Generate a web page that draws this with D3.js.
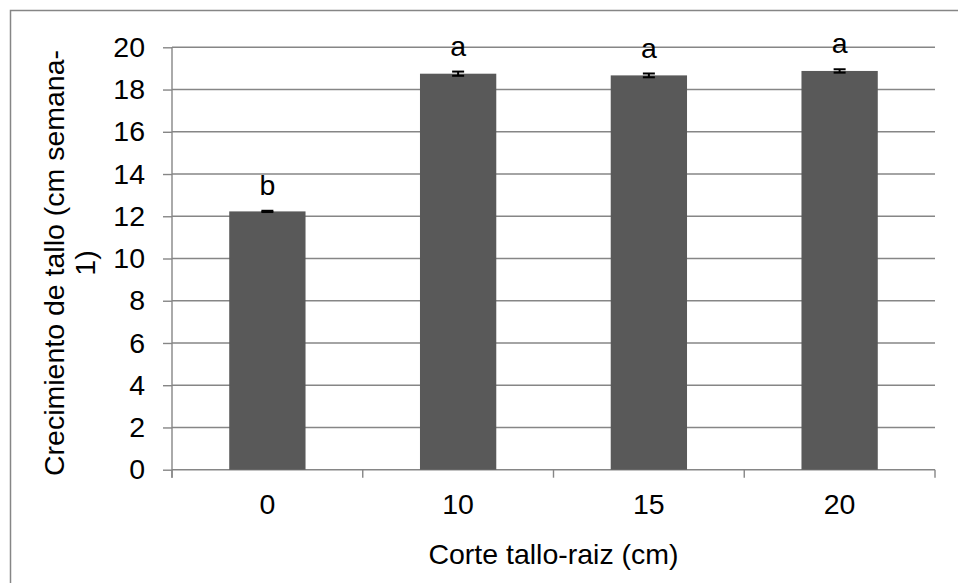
<!DOCTYPE html>
<html>
<head>
<meta charset="utf-8">
<script src="https://cdn.jsdelivr.net/npm/d3@7"></script>
<style>
  html, body { margin: 0; padding: 0; background: #fff; }
  svg { display: block; font-family: "Liberation Sans", Arial, sans-serif; }
</style>
</head>
<body>
<svg id="chart" width="958" height="583"></svg>
<script>
// Stem growth by stem-root cut height
const categories = ["0", "10", "15", "20"];
const values = [12.23, 18.75, 18.67, 18.88];
const errors = [0.03, 0.1, 0.09, 0.08];
const letters = ["b", "a", "a", "a"];
const yTicks = [0, 2, 4, 6, 8, 10, 12, 14, 16, 18, 20];

const svg = d3.select("#chart");
const W = 958, H = 583;
const margin = { left: 172, right: 23, top: 47.3, bottom: 113.3 };
const plotW = W - margin.left - margin.right;
const plotH = H - margin.top - margin.bottom;
const grey = "#868686";
const fontSize = 28.5;

// chart frame
svg.append("rect")
  .attr("x", 10.5).attr("y", 10.5)
  .attr("width", 960).attr("height", 600)
  .attr("fill", "#fff").attr("stroke", grey).attr("stroke-width", 1.5);

const g = svg.append("g").attr("transform", `translate(${margin.left},${margin.top})`);

const x = d3.scaleBand().domain(categories).range([0, plotW]).paddingInner(0).paddingOuter(0);
const y = d3.scaleLinear().domain([0, 20]).range([plotH, 0]);
const barW = x.bandwidth() * 0.4;

// horizontal gridlines
g.append("g").selectAll("line").data(yTicks.filter(d => d > 0)).join("line")
  .attr("x1", 0).attr("x2", plotW)
  .attr("y1", d => y(d)).attr("y2", d => y(d))
  .attr("stroke", grey).attr("stroke-width", 1.4);

// y axis
const yAxis = g.append("g").call(d3.axisLeft(y).tickValues(yTicks).tickSize(9).tickPadding(18).tickFormat(d3.format("d")));
yAxis.select(".domain").attr("stroke", grey).attr("stroke-width", 1.4).attr("d", `M0,${plotH + 8}V0`);
yAxis.selectAll(".tick line").attr("stroke", grey).attr("stroke-width", 1.4);
yAxis.selectAll(".tick text").attr("font-size", fontSize).attr("fill", "#000")
  .attr("font-family", "Liberation Sans, Arial, sans-serif");

// x axis line and category boundary ticks
g.append("line").attr("x1", 0).attr("x2", plotW).attr("y1", plotH).attr("y2", plotH)
  .attr("stroke", grey).attr("stroke-width", 1.4);
const bounds = categories.map(c => x(c)).concat([plotW]);
g.append("g").selectAll("line").data(bounds).join("line")
  .attr("x1", d => d).attr("x2", d => d)
  .attr("y1", plotH).attr("y2", plotH + 8)
  .attr("stroke", grey).attr("stroke-width", 1.4);
g.append("g").selectAll("text").data(categories).join("text")
  .attr("x", d => x(d) + x.bandwidth() / 2)
  .attr("y", plotH + 44)
  .attr("text-anchor", "middle")
  .attr("font-size", fontSize)
  .text(d => d);

// bars
g.append("g").selectAll("rect").data(values).join("rect")
  .attr("x", (d, i) => x(categories[i]) + (x.bandwidth() - barW) / 2)
  .attr("y", d => y(d))
  .attr("width", barW)
  .attr("height", d => plotH - y(d))
  .attr("fill", "#595959");

// error bars
const eb = g.append("g").attr("stroke", "#000").attr("stroke-width", 2);
values.forEach((v, i) => {
  const cx = x(categories[i]) + x.bandwidth() / 2;
  const e = errors[i];
  eb.append("line").attr("x1", cx).attr("x2", cx).attr("y1", y(v + e)).attr("y2", y(v - e));
  eb.append("line").attr("x1", cx - 6).attr("x2", cx + 6).attr("y1", y(v + e)).attr("y2", y(v + e));
  eb.append("line").attr("x1", cx - 6).attr("x2", cx + 6).attr("y1", y(v - e)).attr("y2", y(v - e));
});

// significance letters
g.append("g").selectAll("text").data(letters).join("text")
  .attr("x", (d, i) => x(categories[i]) + x.bandwidth() / 2)
  .attr("y", (d, i) => y(values[i] + errors[i]) - 16)
  .attr("text-anchor", "middle")
  .attr("font-size", fontSize)
  .text(d => d);

// axis titles
svg.append("text")
  .attr("x", margin.left + plotW / 2).attr("y", 564)
  .attr("text-anchor", "middle").attr("font-size", fontSize)
  .text("Corte tallo-raiz (cm)");

const yt = svg.append("text")
  .attr("transform", "translate(55,263) rotate(-90)")
  .attr("text-anchor", "middle").attr("font-size", fontSize);
yt.append("tspan").attr("x", 0).attr("y", 9).text("Crecimiento de tallo (cm semana-");
yt.append("tspan").attr("x", 0).attr("dy", 31).text("1)");
</script>
</body>
</html>
